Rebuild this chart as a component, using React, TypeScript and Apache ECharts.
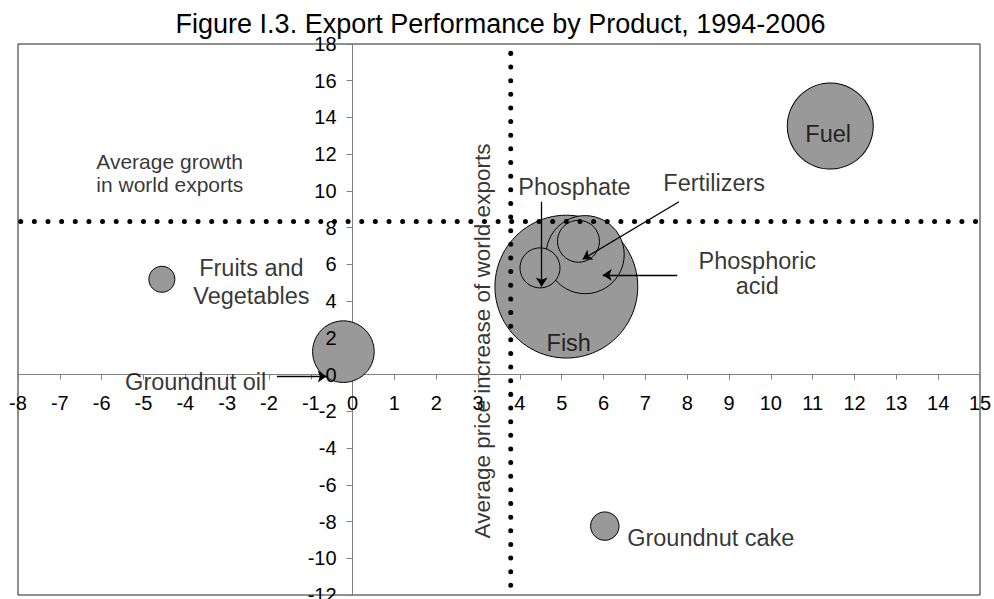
import React, { useEffect, useRef } from "react";
import * as echarts from "echarts";

const FONT = "'Liberation Sans', Arial, Helvetica, sans-serif";

const titleText = "Figure I.3. Export Performance by Product, 1994-2006";
const yAxisTitle = "Average price increase of world exports";

// Bubbles (x = average price increase, y = export growth, size = bubble size)
const products = [
  "Fish",
  "Fuel",
  "Phosphoric acid",
  "Groundnut oil",
  "Fertilizers",
  "Phosphate",
  "Groundnut cake",
  "Fruits and Vegetables",
];
const priceIncrease = [5.11, 11.42, 5.56, -0.22, 5.4, 4.48, 6.03, -4.56];
const exportGrowth = [4.79, 13.53, 6.53, 1.25, 7.26, 5.81, -8.25, 5.19];
const bubbleSize = [204, 74, 61, 38, 17.6, 16, 8.1, 6.8];

// Axis ranges / ticks
const xMin = -8;
const xMax = 15;
const xStep = 1;
const yMin = -12;
const yMax = 18;
const yStep = 2;

// Reference averages (dotted lines)
const avgWorldGrowth = 8.33;
const avgPriceIncrease = 3.78;
const hLineFrom = -7.935;
const hLineTo = 14.93;
const vLineFrom = 17.49;
const vLineTo = -11.52;

// Text annotations (data coordinates)
const annotationTexts = [
  "Average growth\nin world exports",
  "Fruits and\nVegetables",
  "Groundnut oil",
  "Phosphate",
  "Fertilizers",
  "Phosphoric\nacid",
  "Fuel",
  "Fish",
  "Groundnut cake",
];
const annotationX = [-6.14, -2.42, -2.054, 5.305, 8.645, 9.676, 11.37, 5.167, 6.553];
const annotationY = [10.98, 5.06, -0.4, 10.21, 10.42, 5.5, 13.11, 1.73, -8.91];
const annotationAnchor = ["start", "center", "end", "center", "center", "center", "center", "center", "start"];

// Arrows: from (x, y) to (x, y)
const arrowFromX = [4.52, 7.804, 7.76, -1.81];
const arrowFromY = [9.41, 9.41, 5.42, -0.11];
const arrowToX = [4.52, 5.5, 5.98, -0.62];
const arrowToY = [4.79, 6.28, 5.42, -0.11];

// Y-axis title anchor
const yTitleX = 3.106;
const yTitleY = 1.83;

// Layout
const W = 994;
const H = 599;
const GRID_LEFT = 18;
const GRID_TOP = 44;
const GRID_RIGHT = 14;
const GRID_BOTTOM = 4;

export default function App() {
  const ref = useRef<HTMLDivElement>(null);

  useEffect(() => {
    if (!ref.current) return;
    const chart = echarts.init(ref.current, null, { renderer: "svg" });

    const gridW = W - GRID_LEFT - GRID_RIGHT;
    const gridH = H - GRID_TOP - GRID_BOTTOM;
    // axes cross at zero: shift axes from grid edges to the zero position
    const xAxisOffset = -gridH * ((0 - yMin) / (yMax - yMin));
    const yAxisOffset = -gridW * ((0 - xMin) / (xMax - xMin));

    const bubbleData = products.map((p, i) => ({
      name: p,
      value: [priceIncrease[i], exportGrowth[i], bubbleSize[i]],
    }));

    const annData: any[] = annotationTexts.map((t, i) => {
      const a = annotationAnchor[i];
      const isAvg = i === 0;
      const lh = i === 0 ? 23.4 : i === 5 ? 25.5 : 28;
      return {
        name: t,
        value: [annotationX[i], annotationY[i]],
        label: {
          position: a === "start" ? "right" : a === "end" ? "left" : "inside",
          distance: 0,
          fontSize: isAvg ? 21 : 23.5,
          lineHeight: lh,
          color: "#000",
        },
      };
    });
    annData.push({
      name: yAxisTitle,
      value: [yTitleX, yTitleY],
      label: { position: "inside", rotate: 90, fontSize: 22.5, lineHeight: 26, color: "#000" },
    });

    const arrowData = arrowFromX.map((_, i) => ({
      coords: [
        [arrowFromX[i], arrowFromY[i]],
        [arrowToX[i], arrowToY[i]],
      ],
    }));

    const dotStyle = {
      color: "#000",
      width: 5,
      type: [0.01, 13.63],
      cap: "round",
    };

    const option: any = {
      animation: false,
      backgroundColor: "#fff",
      textStyle: { fontFamily: FONT },
      graphic: [
        {
          type: "text",
          x: 500.5,
          y: 24,
          z: 100,
          style: {
            text: titleText,
            fontSize: 27,
            fontFamily: FONT,
            fill: "#000",
            align: "center",
            verticalAlign: "middle",
          },
        },
      ],
      grid: {
        left: GRID_LEFT,
        top: GRID_TOP,
        right: GRID_RIGHT,
        bottom: GRID_BOTTOM,
        show: true,
        borderColor: "#222",
        borderWidth: 1,
        backgroundColor: "transparent",
        containLabel: false,
        outerBoundsMode: "none",
      },
      xAxis: {
        type: "value",
        min: xMin,
        max: xMax,
        interval: xStep,
        position: "bottom",
        offset: xAxisOffset,
        axisLine: { onZero: false, lineStyle: { color: "#808080", width: 1 } },
        axisTick: { length: 5, lineStyle: { color: "#808080" } },
        axisLabel: { color: "#000", fontSize: 20, fontFamily: FONT, margin: 18 },
        splitLine: { show: false },
      },
      yAxis: [
        {
          type: "value",
          min: yMin,
          max: yMax,
          interval: yStep,
          position: "left",
          offset: yAxisOffset,
          axisLine: { onZero: false, lineStyle: { color: "#808080", width: 1 } },
          axisTick: { length: 6, lineStyle: { color: "#808080" } },
          axisLabel: { show: false },
          splitLine: { show: false },
        },
        {
          type: "value",
          min: yMin,
          max: yMax,
          interval: yStep,
          position: "left",
          offset: yAxisOffset,
          z: 10,
          axisLine: { show: false, onZero: false },
          axisTick: { show: false },
          axisLabel: { color: "#000", fontSize: 20, fontFamily: FONT, margin: 16 },
          splitLine: { show: false },
        },
      ],
      series: [
        {
          type: "scatter",
          name: "bubbles",
          data: bubbleData,
          symbolSize: (v: number[]) => Math.sqrt(v[2]) * 10,
          itemStyle: { color: "#999999", borderColor: "#000", borderWidth: 1, opacity: 1 },
          z: 2,
          silent: true,
          emphasis: { disabled: true },
          label: { show: false },
        },
        {
          type: "line",
          name: "avgGrowth",
          data: [
            [hLineFrom, avgWorldGrowth],
            [hLineTo, avgWorldGrowth],
          ],
          symbol: "none",
          lineStyle: dotStyle,
          z: 4,
          silent: true,
          clip: false,
        },
        {
          type: "line",
          name: "avgPrice",
          data: [
            [avgPriceIncrease, vLineFrom],
            [avgPriceIncrease, vLineTo],
          ],
          symbol: "none",
          lineStyle: dotStyle,
          z: 4,
          silent: true,
          clip: false,
        },
        {
          type: "lines",
          coordinateSystem: "cartesian2d",
          data: arrowData,
          symbol: ["none", "arrow"],
          symbolSize: 9,
          lineStyle: { color: "#000", width: 1.3, opacity: 1 },
          z: 5,
          silent: true,
        },
        {
          type: "scatter",
          name: "annotations",
          data: annData,
          symbolSize: 1,
          itemStyle: { color: "rgba(0,0,0,0)" },
          z: 6,
          silent: true,
          label: {
            show: true,
            formatter: "{b}",
            color: "#000",
            fontFamily: FONT,
            fontSize: 23.5,
          },
          emphasis: { disabled: true },
        },
      ],
    };

    chart.setOption(option);
    return () => {
      chart.dispose();
    };
  }, []);

  return (
    <div
      ref={ref}
      style={{ position: "absolute", left: 0, top: 0, width: W, height: H, background: "#fff" }}
    />
  );
}
